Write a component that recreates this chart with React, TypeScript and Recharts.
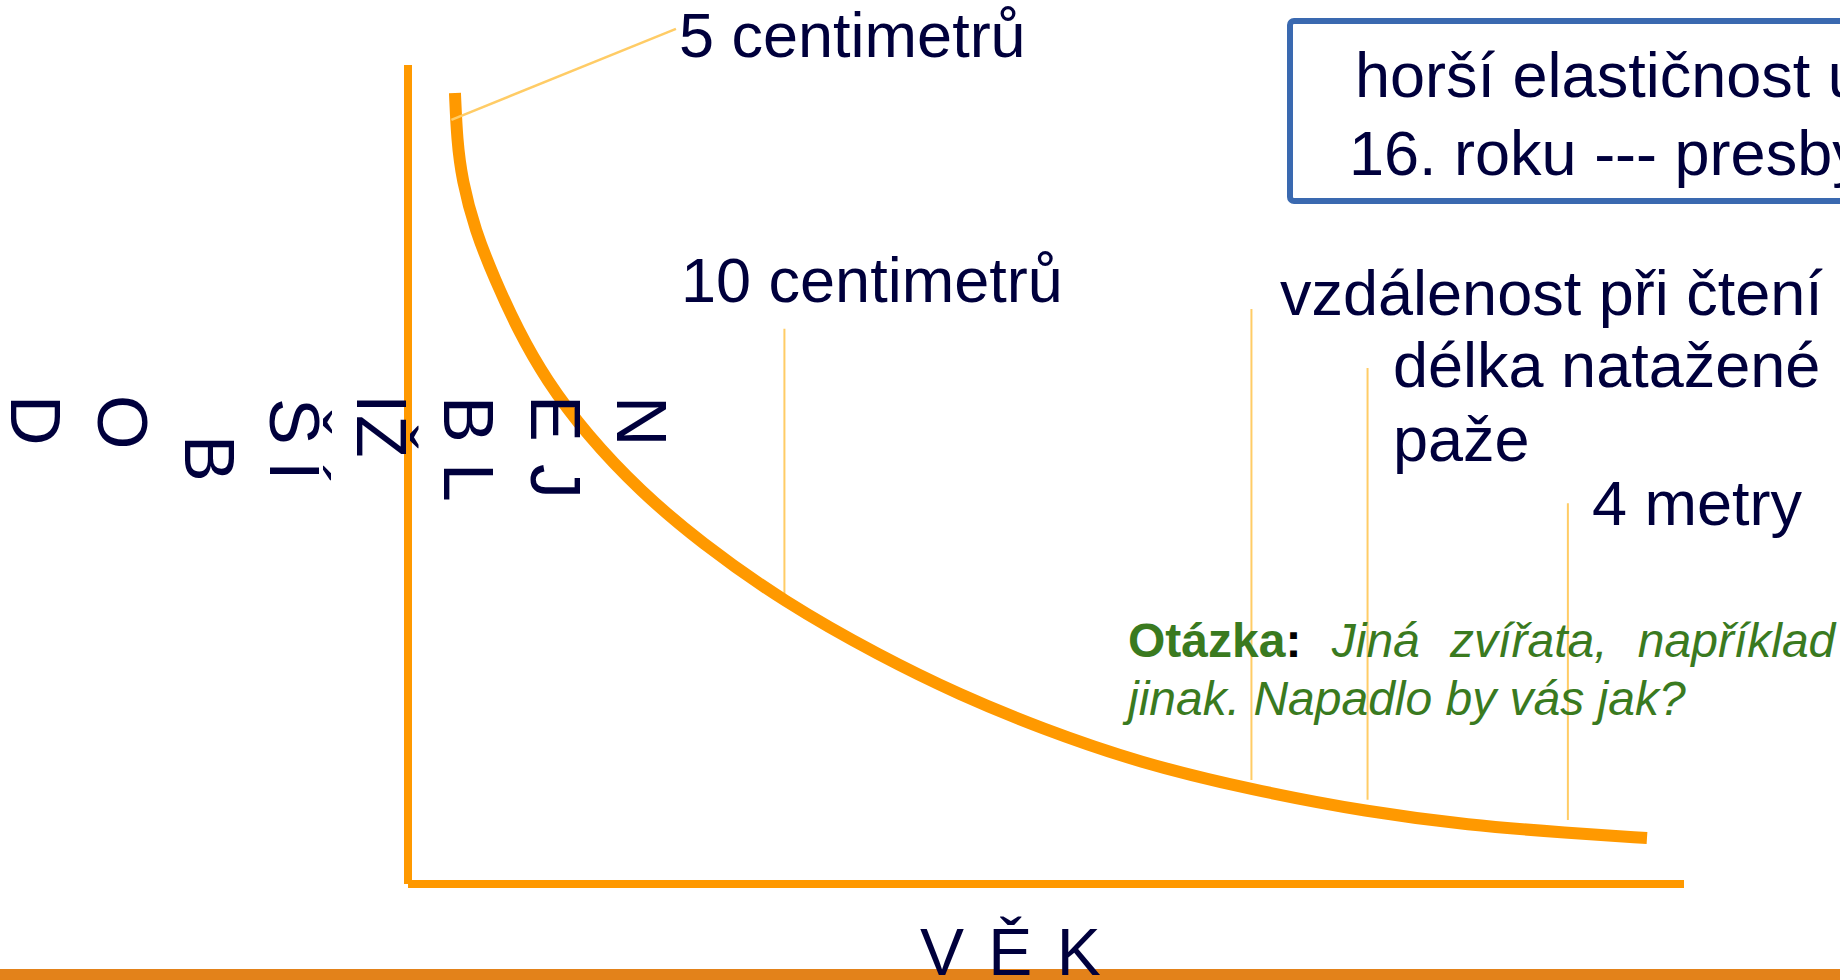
import { LineChart, Line, XAxis, YAxis, ReferenceLine } from 'recharts';

// near point curve (age on x, near point distance on y)
const curveAge = [3.68, 3.84, 4.23, 5.25, 6.82, 8.62, 10.82, 14.03, 18.18, 22.88, 29.47, 36.99, 43.26, 49.53, 57.37, 66.14, 75.24, 83.07, 90.91, 97.1];
const curveNearPoint = [96.58, 90.84, 85.96, 79.85, 73.75, 67.64, 61.54, 54.82, 47.99, 41.76, 34.43, 27.84, 23.08, 19.05, 14.77, 11.48, 8.79, 7.2, 6.23, 5.62];

// thin marker lines: 10 cm, reading distance, arm length, 4 m
const markerAge = [29.5, 66.1, 75.2, 90.9];
const markerTop = [67.8, 70.2, 63.0, 46.5];
const markerBottom = [34.2, 12.7, 10.3, 7.8];

// pointer from the curve start to the "5 centimetrů" label
const pointerAge = [3.4, 21.0];
const pointerValue = [93.3, 104.4];

const data = curveAge.map((x, i) => ({ x, y: curveNearPoint[i] }));

const ORANGE = '#ff9900';
const PALE = '#ffcc66';
const NAVY = '#00003c';
const GREEN = '#3a7a1f';
const FONT = '"Liberation Sans", Arial, sans-serif';

// vertical y title, each letter rotated 90deg: [baseline x, start y]
const titleLetters = ['N', 'E', 'J', 'B', 'L', 'I', 'Ž', 'Š', 'Í', 'B', 'O', 'D'];
const titlePos: [number, number][] = [
  [617, 396], [531, 395], [531, 464], [444, 396], [444, 463], [357, 394],
  [357, 415], [270, 398], [270, 461], [185, 435], [98, 395], [11, 395],
];

const labels: { text: string; x: number; y: number }[] = [
  { text: '5 centimetrů', x: 679, y: 57 },
  { text: '10 centimetrů', x: 681, y: 302 },
  { text: 'horší elastičnost už od', x: 1355, y: 97 },
  { text: '16. roku --- presbyopie', x: 1349, y: 175 },
  { text: 'vzdálenost při čtení', x: 1280, y: 315 },
  { text: 'délka natažené', x: 1393, y: 387 },
  { text: 'paže', x: 1393, y: 461 },
  { text: '4 metry', x: 1592, y: 525 },
];

export default function App() {
  return (
    <div style={{ position: 'relative', width: 1840, height: 980, background: '#fff', overflow: 'hidden' }}>
      <style>{'body{margin:0}'}</style>
      <LineChart
        width={1840}
        height={980}
        data={data}
        margin={{ top: 65, right: 156, bottom: 96, left: 408 }}
      >
        <XAxis type="number" dataKey="x" domain={[0, 100]} hide />
        <YAxis type="number" domain={[0, 100]} hide />
        {/* axes drawn as orange bars */}
        <ReferenceLine x={0} stroke={ORANGE} strokeWidth={8} ifOverflow="visible" />
        <ReferenceLine y={0} stroke={ORANGE} strokeWidth={8} ifOverflow="visible" />
        {markerAge.map((x, i) => (
          <ReferenceLine
            key={i}
            segment={[{ x, y: markerTop[i] }, { x, y: markerBottom[i] }]}
            stroke={PALE}
            strokeWidth={2}
            ifOverflow="visible"
          />
        ))}
        <Line
          dataKey="y"
          type="basis"
          stroke={ORANGE}
          strokeWidth={12}
          dot={false}
          activeDot={false}
          isAnimationActive={false}
        />
        <ReferenceLine
          segment={[
            { x: pointerAge[0], y: pointerValue[0] },
            { x: pointerAge[1], y: pointerValue[1] },
          ]}
          stroke={PALE}
          strokeWidth={2.5}
          ifOverflow="visible"
        />
      </LineChart>

      <svg
        width={1840}
        height={980}
        style={{ position: 'absolute', left: 0, top: 0, pointerEvents: 'none' }}
        fontFamily={FONT}
      >
        <rect x={1290} y={21} width={700} height={180} rx={4} fill="none" stroke="#3a69b0" strokeWidth={6} />
        {labels.map((l) => (
          <text key={l.text} x={l.x} y={l.y} fontSize={63} fill={NAVY}>
            {l.text}
          </text>
        ))}
        {titleLetters.map((ch, i) => (
          <text
            key={i}
            transform={`translate(${titlePos[i][0]},${titlePos[i][1]}) rotate(90)`}
            fontSize={70}
            fill={NAVY}
          >
            {ch}
          </text>
        ))}
        <text x={1128} y={657} fontSize={48} fill={GREEN} style={{ wordSpacing: 17 }}>
          <tspan fontWeight="bold">Otázka</tspan>
          <tspan fontWeight="bold" fill="#000">:</tspan>
          <tspan fontStyle="italic">{'  Jiná zvířata, například'}</tspan>
        </text>
        <text x={1128} y={715} fontSize={48} fill={GREEN} fontStyle="italic">
          jinak. Napadlo by vás jak?
        </text>
        <rect x={0} y={969} width={1840} height={11} fill="#e3821a" />
        <text x={920} y={975} fontSize={66} fill={NAVY} letterSpacing={3}>
          V Ě K
        </text>
      </svg>
    </div>
  );
}
